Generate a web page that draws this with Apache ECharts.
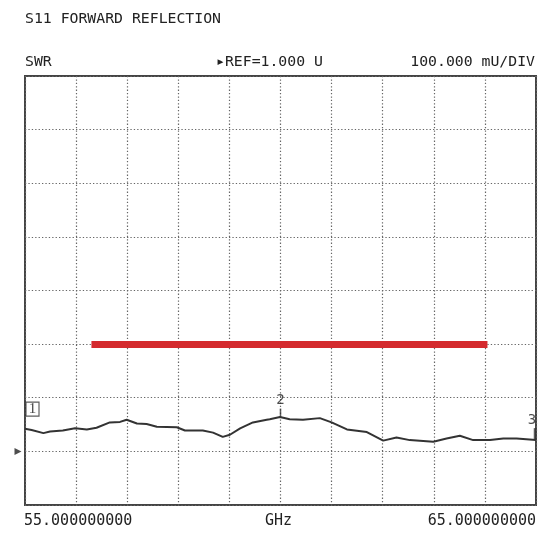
<!DOCTYPE html>
<html>
<head>
<meta charset="utf-8">
<script src="https://cdn.jsdelivr.net/npm/echarts@6/dist/echarts.min.js"></script>
<style>html,body{margin:0;padding:0;background:#fff;}#c{width:541px;height:541px;}</style>
</head>
<body>
<div id="c"></div>
<script>
// Frequency (GHz) of each trace point
const freqGHz = [55.00,55.13,55.36,55.49,55.74,55.98,56.21,56.40,56.66,56.86,56.99,57.19,57.38,57.58,57.97,58.13,58.48,58.68,58.87,59.01,59.21,59.46,59.73,59.79,59.99,60.18,60.44,60.77,61.00,61.30,61.69,62.01,62.27,62.53,62.99,63.25,63.51,63.77,64.10,64.36,64.62,65.00];
// SWR values (U)
const swr = [1.042,1.040,1.034,1.037,1.039,1.043,1.041,1.044,1.054,1.055,1.059,1.052,1.051,1.046,1.045,1.039,1.039,1.035,1.027,1.031,1.043,1.054,1.059,1.060,1.064,1.060,1.059,1.062,1.054,1.041,1.036,1.020,1.026,1.021,1.018,1.024,1.029,1.021,1.021,1.024,1.024,1.021];
// Red highlight line
const redLineStart = [56.3, 1.2];
const redLineEnd = [64.05, 1.2];
// Markers
const markerLabels = ['1','2','3'];
const markerFreq = [55.0, 60.0, 65.0];
const markerVal = [1.079, 1.064, 1.021];
const refValue = 1.0;
// Axis
const xMin = 55, xMax = 65, xStep = 1;
const yMin = 0.9, yMax = 1.7, yStep = 0.1;
const titleText = 'S11 FORWARD REFLECTION';
const formatText = 'SWR';
const refText = '\u25B8REF=1.000 U';
const scaleText = '100.000 mU/DIV';
const startText = '55.000000000';
const unitText = 'GHz';
const stopText = '65.000000000';

const mono = '"DejaVu Sans Mono", "Liberation Mono", monospace';
const txtColor = '#222';
const chart = echarts.init(document.getElementById('c'), null, {renderer:'canvas'});
const trace = freqGHz.map((f,i)=>[f, swr[i]]);

chart.setOption({
  animation:false,
  backgroundColor:'#fff',
  grid:{left:25, top:76, width:511, height:429, show:true, borderColor:'#444', borderWidth:2, backgroundColor:'transparent'},
  xAxis:{type:'value', min:xMin, max:xMax, interval:xStep,
    axisLine:{show:false}, axisTick:{show:false}, axisLabel:{show:false},
    splitLine:{show:true, lineStyle:{color:'#666', width:1.2, type:[1.3,2.1]}}},
  yAxis:{type:'value', min:yMin, max:yMax, interval:yStep,
    axisLine:{show:false}, axisTick:{show:false}, axisLabel:{show:false},
    splitLine:{show:true, lineStyle:{color:'#666', width:1.2, type:[1.3,2.1]}}},
  graphic:[
    {type:'text', left:25, top:12, style:{text:titleText, font:'14.8px '+mono, fill:txtColor}},
    {type:'text', left:25, top:55, style:{text:formatText, font:'14.8px '+mono, fill:txtColor}},
    {type:'text', left:216, top:55, style:{text:refText, font:'14.8px '+mono, fill:txtColor}},
    {type:'text', right:6, top:55, style:{text:scaleText, font:'14.8px '+mono, fill:txtColor}},
    {type:'text', left:24, top:514, style:{text:startText, font:'15px '+mono, fill:txtColor}},
    {type:'text', left:265, top:514, style:{text:unitText, font:'15px '+mono, fill:txtColor}},
    {type:'text', right:5, top:514, style:{text:stopText, font:'15px '+mono, fill:txtColor}}
  ],
  series:[
    {type:'line', data:trace, symbol:'none', smooth:false,
      lineStyle:{color:'#333', width:2},
      markLine:{silent:true, symbol:['none','none'], label:{show:false},
        lineStyle:{color:'#d42a2e', width:7, type:'solid'},
        data:[[{coord:redLineStart},{coord:redLineEnd}]]}
    },
    // marker 1: boxed label
    {type:'scatter', clip:false, symbol:'rect', symbolSize:[13,14], symbolOffset:[7.5,0],
      itemStyle:{color:'#fff', borderColor:'#333', borderWidth:1.2},
      data:[[markerFreq[0], markerVal[0]]],
      label:{show:true, position:'inside', formatter:markerLabels[0], color:'#111',
        fontFamily:'"Liberation Serif", serif', fontSize:15}
    },
    // marker 2: tick above trace with label
    {type:'scatter', clip:false, symbol:'rect', symbolSize:[1.5,9], symbolOffset:[0,-4],
      itemStyle:{color:'#333'},
      data:[[markerFreq[1], markerVal[1]]],
      label:{show:true, position:'top', distance:0, offset:[0,-1], formatter:markerLabels[1], color:'#222', fontFamily:mono, fontSize:14}
    },
    // marker 3: bar at right edge with label
    {type:'scatter', clip:false, symbol:'rect', symbolSize:[2.5,12], symbolOffset:[-1,-6],
      itemStyle:{color:'#333'},
      data:[[markerFreq[2], markerVal[2]]],
      label:{show:true, position:'top', distance:1, offset:[-3,0], formatter:markerLabels[2], color:'#222', fontFamily:mono, fontSize:14}
    },
    // reference pointer
    {type:'scatter', clip:false, symbol:'triangle', symbolSize:[7,7], symbolRotate:-90, symbolOffset:[-7,0],
      itemStyle:{color:'#222'},
      data:[[xMin, refValue]]
    }
  ]
});
</script>
</body>
</html>
